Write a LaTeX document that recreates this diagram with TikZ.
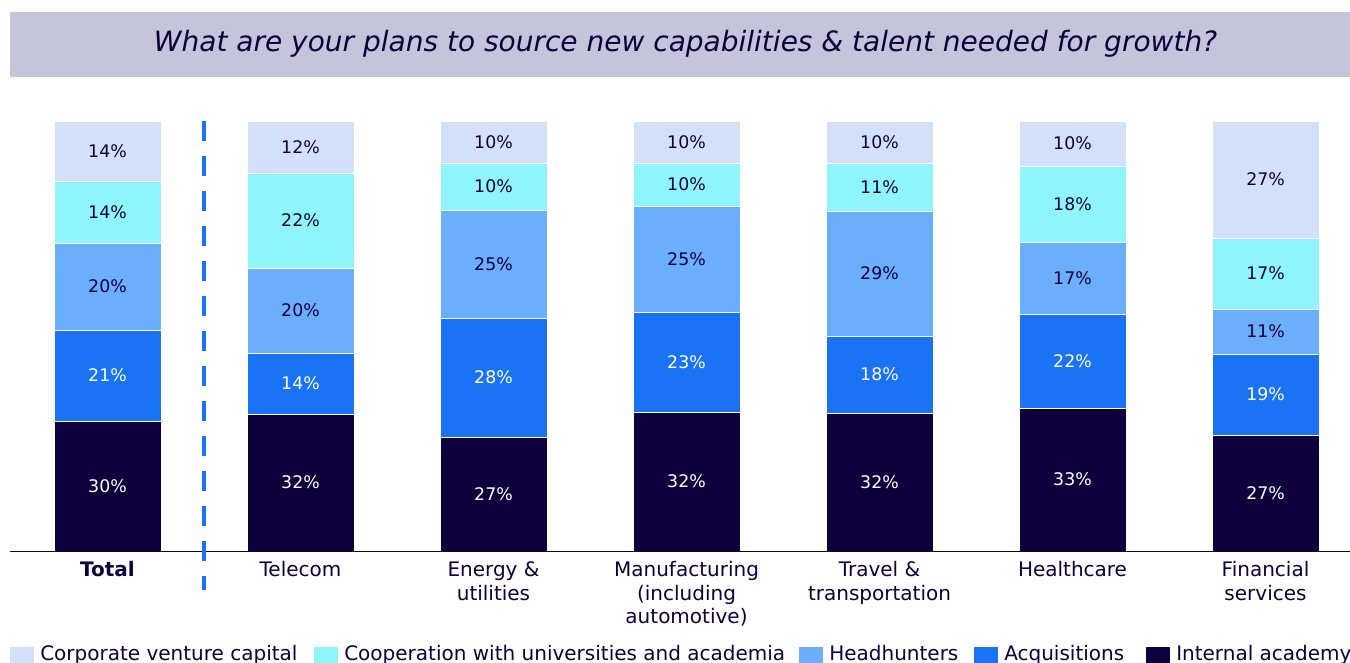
\documentclass[tikz,border=0pt]{standalone}
\usepackage{fontspec}
\setmainfont{DejaVu Sans}
\usepackage{xcolor}
\usepackage{tikz}

\definecolor{navy}{RGB}{13,0,61}
\definecolor{band}{RGB}{196,196,218}
\definecolor{cvc}{RGB}{210,224,250}
\definecolor{coop}{RGB}{142,245,252}
\definecolor{hunt}{RGB}{106,174,252}
\definecolor{acq}{RGB}{26,115,245}
\definecolor{acad}{RGB}{13,0,61}

\tikzset{
  seg/.style={draw=white, line width=0.4pt},
  pctdark/.style={text=navy, inner sep=0pt, font=\fontsize{13}{15}\selectfont},
  pctlight/.style={text=white, inner sep=0pt, font=\fontsize{13}{15}\selectfont},
  catlabel/.style={text=navy, anchor=base, inner sep=0pt, font=\fontsize{15}{18}\selectfont},
  legbox/.style={inner sep=0pt, minimum width=18pt, minimum height=18pt, anchor=north west},
  legtext/.style={text=navy, anchor=base west, inner sep=0pt, font=\fontsize{15}{18}\selectfont},
}

\begin{document}
\begin{tikzpicture}[x=0.75pt,y=0.75pt,yscale=-1]
\useasboundingbox (0,0) rectangle (1350,663);

%Shape: Title band
\fill [band] (10,12) rectangle (1350,77);
% Text Node
\node [text=navy, font=\fontsize{21}{25}\itshape] (title) at (685.5,44) {What are your plans to source new capabilities \& talent needed for growth?};

%Shape: Total
\fill [cvc,seg] (54,121) rectangle (161,181);
\fill [coop,seg] (54,181) rectangle (161,243);
\fill [hunt,seg] (54,243) rectangle (161,330);
\fill [acq,seg] (54,330) rectangle (161,421);
\fill [acad,seg] (54,421) rectangle (161,551);
\node [pctdark] (tot-cvc) at (107.5,151) {14\%};
\node [pctdark] (tot-coop) at (107.5,212) {14\%};
\node [pctdark] (tot-hunt) at (107.5,286.5) {20\%};
\node [pctlight] (tot-acq) at (107.5,375.5) {21\%};
\node [pctlight] (tot-acad) at (107.5,486) {30\%};

%Shape: Telecom
\fill [cvc,seg] (247,121) rectangle (354,173);
\fill [coop,seg] (247,173) rectangle (354,268);
\fill [hunt,seg] (247,268) rectangle (354,353);
\fill [acq,seg] (247,353) rectangle (354,414);
\fill [acad,seg] (247,414) rectangle (354,551);
\node [pctdark] (tel-cvc) at (300.5,147) {12\%};
\node [pctdark] (tel-coop) at (300.5,220.5) {22\%};
\node [pctdark] (tel-hunt) at (300.5,310.5) {20\%};
\node [pctlight] (tel-acq) at (300.5,383.5) {14\%};
\node [pctlight] (tel-acad) at (300.5,482.5) {32\%};

%Shape: Energy & utilities
\fill [cvc,seg] (440,121) rectangle (547,163);
\fill [coop,seg] (440,163) rectangle (547,210);
\fill [hunt,seg] (440,210) rectangle (547,318);
\fill [acq,seg] (440,318) rectangle (547,437);
\fill [acad,seg] (440,437) rectangle (547,551);
\node [pctdark] (ene-cvc) at (493.5,142) {10\%};
\node [pctdark] (ene-coop) at (493.5,186.5) {10\%};
\node [pctdark] (ene-hunt) at (493.5,264) {25\%};
\node [pctlight] (ene-acq) at (493.5,377.5) {28\%};
\node [pctlight] (ene-acad) at (493.5,494) {27\%};

%Shape: Manufacturing
\fill [cvc,seg] (633,121) rectangle (740,163);
\fill [coop,seg] (633,163) rectangle (740,206);
\fill [hunt,seg] (633,206) rectangle (740,312);
\fill [acq,seg] (633,312) rectangle (740,412);
\fill [acad,seg] (633,412) rectangle (740,551);
\node [pctdark] (man-cvc) at (686.5,142) {10\%};
\node [pctdark] (man-coop) at (686.5,184.5) {10\%};
\node [pctdark] (man-hunt) at (686.5,259) {25\%};
\node [pctlight] (man-acq) at (686.5,362) {23\%};
\node [pctlight] (man-acad) at (686.5,481.5) {32\%};

%Shape: Travel & transportation
\fill [cvc,seg] (826,121) rectangle (933,163);
\fill [coop,seg] (826,163) rectangle (933,211);
\fill [hunt,seg] (826,211) rectangle (933,336);
\fill [acq,seg] (826,336) rectangle (933,413);
\fill [acad,seg] (826,413) rectangle (933,551);
\node [pctdark] (tra-cvc) at (879.5,142) {10\%};
\node [pctdark] (tra-coop) at (879.5,187) {11\%};
\node [pctdark] (tra-hunt) at (879.5,273.5) {29\%};
\node [pctlight] (tra-acq) at (879.5,374.5) {18\%};
\node [pctlight] (tra-acad) at (879.5,482) {32\%};

%Shape: Healthcare
\fill [cvc,seg] (1019,121) rectangle (1126,166);
\fill [coop,seg] (1019,166) rectangle (1126,242);
\fill [hunt,seg] (1019,242) rectangle (1126,314);
\fill [acq,seg] (1019,314) rectangle (1126,408);
\fill [acad,seg] (1019,408) rectangle (1126,551);
\node [pctdark] (hea-cvc) at (1072.5,143.5) {10\%};
\node [pctdark] (hea-coop) at (1072.5,204) {18\%};
\node [pctdark] (hea-hunt) at (1072.5,278) {17\%};
\node [pctlight] (hea-acq) at (1072.5,361) {22\%};
\node [pctlight] (hea-acad) at (1072.5,479.5) {33\%};

%Shape: Financial services
\fill [cvc,seg] (1212,121) rectangle (1319,238);
\fill [coop,seg] (1212,238) rectangle (1319,309);
\fill [hunt,seg] (1212,309) rectangle (1319,354);
\fill [acq,seg] (1212,354) rectangle (1319,435);
\fill [acad,seg] (1212,435) rectangle (1319,551);
\node [pctdark] (fin-cvc) at (1265.5,179.5) {27\%};
\node [pctdark] (fin-coop) at (1265.5,273.5) {17\%};
\node [pctdark] (fin-hunt) at (1265.5,331.5) {11\%};
\node [pctlight] (fin-acq) at (1265.5,394.5) {19\%};
\node [pctlight] (fin-acad) at (1265.5,493) {27\%};

%Shape: Axis and divider
\coordinate (axis-l) at (10,551.5);
\coordinate (axis-r) at (1350,551.5);
\draw [navy, line width=1.2pt] (axis-l) -- (axis-r);
\coordinate (div-t) at (204,121);
\coordinate (div-b) at (204,590);
\draw [acq, line width=3pt, dash pattern={on 15pt off 11.25pt}] (div-t) -- (div-b);

% Text Node
\node [catlabel, font=\fontsize{15}{18}\bfseries] (cat-tot) at (107.5,576) {Total};
\node [catlabel] (cat-tel) at (300.5,576) {Telecom};
\node [catlabel] (cat-ene1) at (493.5,576) {Energy \&};
\node [catlabel] (cat-ene2) at (493.5,600) {utilities};
\node [catlabel] (cat-man1) at (686.5,576) {Manufacturing};
\node [catlabel] (cat-man2) at (686.5,600) {(including};
\node [catlabel] (cat-man3) at (686.5,623) {automotive)};
\node [catlabel] (cat-tra1) at (879.5,576) {Travel \&};
\node [catlabel] (cat-tra2) at (879.5,600) {transportation};
\node [catlabel] (cat-hea) at (1072.5,576) {Healthcare};
\node [catlabel] (cat-fin1) at (1265.5,576) {Financial};
\node [catlabel] (cat-fin2) at (1265.5,600) {services};

%Shape: Legend
\node [legbox, fill=cvc] (leg-cvc) at (10,647) {};
\node [legtext] (leg-cvc-t) at (40,660) {Corporate venture capital};
\node [legbox, fill=coop] (leg-coop) at (314,647) {};
\node [legtext] (leg-coop-t) at (344,660) {Cooperation with universities and academia};
\node [legbox, fill=hunt] (leg-hunt) at (799,647) {};
\node [legtext] (leg-hunt-t) at (829,660) {Headhunters};
\node [legbox, fill=acq] (leg-acq) at (974,647) {};
\node [legtext] (leg-acq-t) at (1004,660) {Acquisitions};
\node [legbox, fill=acad] (leg-acad) at (1146,647) {};
\node [legtext] (leg-acad-t) at (1176,660) {Internal academy};

\end{tikzpicture}
\end{document}
